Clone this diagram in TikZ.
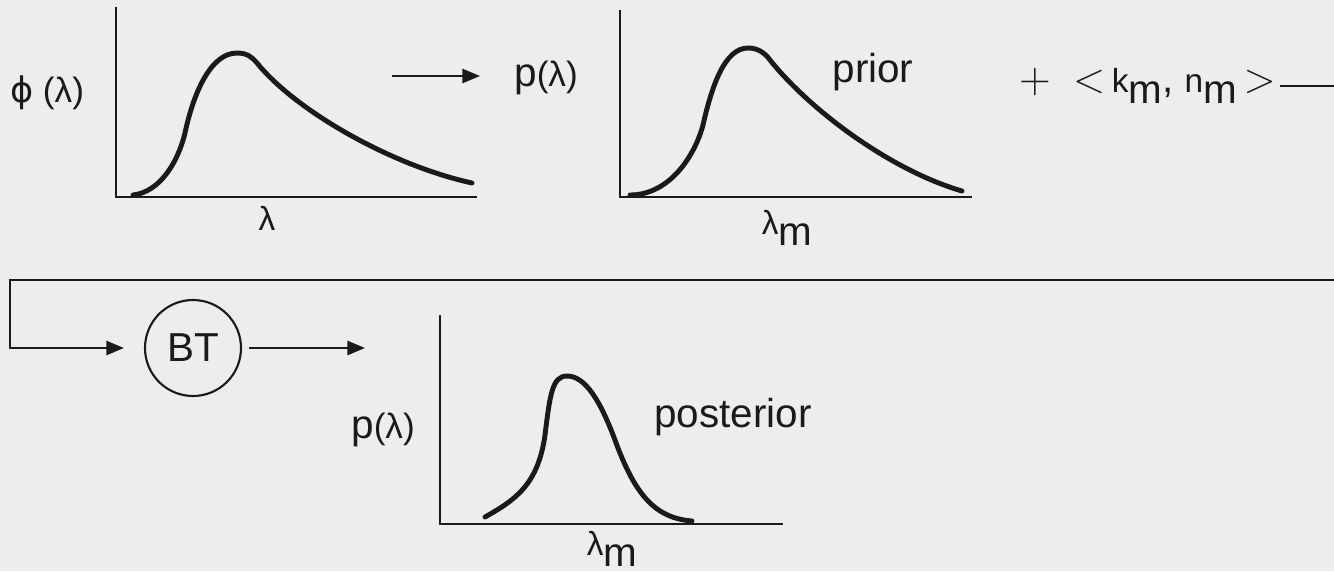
\documentclass[tikz,border=0pt]{standalone}
\usepackage{fontspec}
\setmainfont{Liberation Sans}
\newfontfamily\greekfont{DejaVu Sans}
\usetikzlibrary{arrows.meta, positioning, calc}
\definecolor{scanBg}{HTML}{EDEDEB}
\definecolor{scanInk}{HTML}{1A1A1A}

\newcommand{\lsub}[1]{{\fontsize{9.5}{10}\selectfont λ}\raisebox{-0.55ex}{#1}}
\newcommand{\plam}{p{\fontsize{10}{11}\selectfont(λ)}}
\newcommand{\smallsub}[2]{{\fontsize{9.5}{10}\selectfont #1}\raisebox{-0.5ex}{#2}}

\begin{document}
\begin{tikzpicture}[every node/.style={font=\fontsize{11.5}{13}\selectfont, text=scanInk},
  axis/.style={draw=scanInk, line width=0.7pt},
  curve/.style={draw=scanInk, line width=1.4pt, line cap=round},
  conn/.style={draw=scanInk, line width=0.65pt, -{Triangle[length=5pt,width=4pt]}}]
% page
\clip (0,0) rectangle (13.34,-5.71);
\fill[scanBg] (0,0) rectangle (13.34,-5.71);

% first plot: phi(lambda)
\draw[axis] (1.16,-0.07) -- (1.16,-1.97) -- (4.77,-1.97);
\draw[curve] (1.33,-1.95) .. controls (1.60,-1.92) and (1.78,-1.62) .. (1.85,-1.33)
  .. controls (1.93,-0.95) and (2.10,-0.53) .. (2.37,-0.53)
  .. controls (2.47,-0.53) and (2.52,-0.57) .. (2.57,-0.63)
  .. controls (2.95,-1.10) and (3.90,-1.65) .. (4.72,-1.83);
\node (phiLab) at (0.47,-0.93) {{\fontsize{10}{11}\selectfont{\greekfont ϕ} (λ)}};
\node (lamTop) at (2.67,-2.18) {{\fontsize{9.5}{10}\selectfont λ}};

% arrow to the prior
\coordinate (arrAs) at (3.92,-0.76);
\coordinate (arrAe) at (4.80,-0.76);
\draw[conn] (arrAs) -- (arrAe);

% second plot: prior
\node (pTop) at (5.46,-0.78) {\plam};
\draw[axis] (6.20,-0.10) -- (6.20,-1.97) -- (9.72,-1.97);
\draw[curve] (6.30,-1.95) .. controls (6.70,-1.95) and (6.95,-1.55) .. (7.03,-1.25)
  .. controls (7.12,-0.85) and (7.25,-0.48) .. (7.48,-0.48)
  .. controls (7.58,-0.48) and (7.65,-0.53) .. (7.70,-0.60)
  .. controls (8.10,-1.10) and (8.90,-1.70) .. (9.62,-1.91);
\node (prior) at (8.73,-0.72) {prior};
\node (lamMid) at (7.87,-2.28) {\lsub{m}};

% new data
\node[anchor=east, inner xsep=1pt] (knm) at (12.80,-0.86)
  {$+$\hspace{0.22cm}$<$\,\smallsub{k}{m}, \smallsub{n}{m}\,$>$};

% Bayes' theorem
\node[circle, draw=scanInk, line width=0.6pt, minimum size=0.96cm, inner sep=0pt] (bt) at (1.93,-3.48) {BT};
\draw[conn, shorten >=0.2cm] (knm.east) -- ++(1.2,0) |- (0.10,-2.80) |- (bt.west);
\coordinate (btOut) at (3.65,-3.48);
\draw[conn, shorten <=0.07cm] (bt.east) -- (btOut);

% third plot: posterior
\node (pBot) at (3.83,-4.30) {\plam};
\draw[axis] (4.40,-3.15) -- (4.40,-5.24) -- (7.83,-5.24);
\draw[curve] (4.85,-5.17) .. controls (5.15,-5.00) and (5.38,-4.85) .. (5.45,-4.35)
  .. controls (5.50,-3.95) and (5.52,-3.76) .. (5.67,-3.76)
  .. controls (5.85,-3.76) and (6.00,-4.00) .. (6.15,-4.40)
  .. controls (6.35,-4.95) and (6.55,-5.18) .. (6.92,-5.21);
\node (post) at (7.33,-4.17) {posterior};
\node (lamBot) at (6.12,-5.49) {\lsub{m}};
\end{tikzpicture}
\end{document}
